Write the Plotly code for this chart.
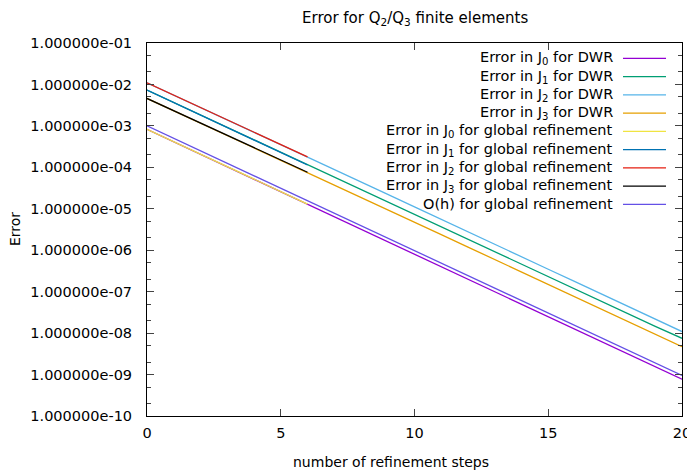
import plotly.graph_objects as go

steps = list(range(21))
steps_global = list(range(7))

# DWR errors (first steps coincide with global refinement)
dwr_j0 = [8.3e-4, 4.15e-4, 2.08e-4, 1.03e-4, 5.0e-5, 2.6e-5, 1.3e-5, 6.5e-6, 3.25e-6, 1.62e-6,
          8.1e-7, 4.05e-7, 2.0e-7, 1.0e-7, 5.0e-8, 2.5e-8, 1.25e-8, 6.2e-9, 3.1e-9, 1.55e-9, 7.7e-10]
dwr_j1 = [7.3e-3, 3.65e-3, 1.83e-3, 9.1e-4, 4.56e-4, 2.28e-4, 1.14e-4, 5.72e-5, 2.87e-5, 1.44e-5,
          7.2e-6, 3.62e-6, 1.82e-6, 9.1e-7, 4.57e-7, 2.29e-7, 1.15e-7, 5.8e-8, 2.9e-8, 1.46e-8, 7.5e-9]
dwr_j2 = [1.1e-2, 5.55e-3, 2.8e-3, 1.41e-3, 7.1e-4, 3.55e-4, 1.78e-4, 8.9e-5, 4.45e-5, 2.23e-5,
          1.11e-5, 5.6e-6, 2.8e-6, 1.39e-6, 6.95e-7, 3.48e-7, 1.74e-7, 8.7e-8, 4.35e-8, 2.17e-8, 1.09e-8]
dwr_j3 = [4.6e-3, 2.32e-3, 1.17e-3, 5.9e-4, 2.98e-4, 1.5e-4, 7.6e-5, 3.8e-5, 1.9e-5, 9.5e-6,
          4.75e-6, 2.38e-6, 1.19e-6, 5.95e-7, 2.97e-7, 1.49e-7, 7.4e-8, 3.7e-8, 1.86e-8, 9.3e-9, 4.7e-9]

# global refinement errors
glob_j0 = [8.3e-4, 4.15e-4, 2.08e-4, 1.04e-4, 5.2e-5, 2.6e-5, 1.3e-5]
glob_j1 = [7.3e-3, 3.65e-3, 1.83e-3, 9.1e-4, 4.56e-4, 2.28e-4, 1.14e-4]
glob_j2 = [1.1e-2, 5.55e-3, 2.8e-3, 1.41e-3, 7.1e-4, 3.55e-4, 1.78e-4]
glob_j3 = [4.6e-3, 2.32e-3, 1.17e-3, 5.9e-4, 2.98e-4, 1.5e-4, 7.6e-5]

# O(h) reference
o_h = [1.0e-3, 5.0e-4, 2.5e-4, 1.25e-4, 6.25e-5, 3.13e-5, 1.56e-5, 7.81e-6, 3.91e-6, 1.95e-6,
       9.77e-7, 4.88e-7, 2.44e-7, 1.22e-7, 6.10e-8, 3.05e-8, 1.53e-8, 7.63e-9, 3.81e-9, 1.91e-9, 9.54e-10]

ytick_vals = [1e-1, 1e-2, 1e-3, 1e-4, 1e-5, 1e-6, 1e-7, 1e-8, 1e-9, 1e-10]
ytick_text = ["1.000000e-01", "1.000000e-02", "1.000000e-03", "1.000000e-04", "1.000000e-05",
              "1.000000e-06", "1.000000e-07", "1.000000e-08", "1.000000e-09", "1.000000e-10"]
xtick_vals = [0, 5, 10, 15, 20]

series = [
    ("Error in J<sub>0</sub> for DWR", steps, dwr_j0, "#9400d3"),
    ("Error in J<sub>1</sub> for DWR", steps, dwr_j1, "#009e73"),
    ("Error in J<sub>2</sub> for DWR", steps, dwr_j2, "#56b4e9"),
    ("Error in J<sub>3</sub> for DWR", steps, dwr_j3, "#e69f00"),
    ("Error in J<sub>0</sub> for global refinement", steps_global, glob_j0, "#f0e442"),
    ("Error in J<sub>1</sub> for global refinement", steps_global, glob_j1, "#0072b2"),
    ("Error in J<sub>2</sub> for global refinement", steps_global, glob_j2, "#e51e10"),
    ("Error in J<sub>3</sub> for global refinement", steps_global, glob_j3, "#000000"),
    ("O(h) for global refinement", steps, o_h, "#6450e6"),
]

FONT = "DejaVu Sans"
FS = 14.5
OFF = 8  # page body margin
# target screen positions of the plot frame
SX0, SX1, SY0, SY1 = 147, 682, 43, 416
W, H = 695 - OFF, 471 - OFF
L, T = SX0 - OFF, SY0 - OFF
R, B = W - (SX1 - OFF), H - (SY1 - OFF)
pw, ph = SX1 - SX0, SY1 - SY0


def px(sx):
    return (sx - SX0) / pw


def py(sy):
    return (SY1 - sy) / ph


fig = go.Figure()
annotations = []
shapes = []
row0, drow = 58.3, 18.25
for i, (name, xs, ys, col) in enumerate(series):
    fig.add_trace(go.Scatter(x=xs, y=ys, mode="lines", name=name,
                             line=dict(color=col, width=1.3), showlegend=False))
    yp = py(row0 + i * drow)
    annotations.append(dict(x=px(615), y=yp, xref="paper", yref="paper",
                            text=name, showarrow=False, xanchor="right", yanchor="middle",
                            font=dict(family=FONT, size=FS, color="#000000")))
    shapes.append(dict(type="line", xref="paper", yref="paper",
                       x0=px(623), x1=px(666), y0=yp, y1=yp,
                       line=dict(color=col, width=1.3)))

# axis titles
annotations.append(dict(x=px(391), y=py(462), xref="paper", yref="paper",
                        text="number of refinement steps", showarrow=False,
                        xanchor="center", yanchor="middle",
                        font=dict(family=FONT, size=14, color="#000000")))
annotations.append(dict(x=px(15), y=py(229), xref="paper", yref="paper",
                        text="Error", showarrow=False, textangle=-90,
                        xanchor="center", yanchor="middle",
                        font=dict(family=FONT, size=14, color="#000000")))
annotations.append(dict(x=px(415), y=py(OFF), xref="paper", yref="paper",
                        text="Error for Q<sub>2</sub>/Q<sub>3</sub> finite elements",
                        showarrow=False, xanchor="center", yanchor="top", borderpad=0,
                        font=dict(family=FONT, size=15, color="#000000")))

fig.update_layout(
    width=W, height=H,
    margin=dict(l=L, r=R, t=T, b=B, pad=0),
    paper_bgcolor="white", plot_bgcolor="white",
    font=dict(family=FONT, size=FS, color="#000000"),
    annotations=annotations,
    shapes=shapes,
)
fig.update_xaxes(range=[0, 20], tickvals=xtick_vals, ticks="inside", ticklen=7,
                 showline=True, linecolor="black", linewidth=1, mirror="ticks",
                 showgrid=False, zeroline=False, automargin=False,
                 ticklabelstandoff=4,
                 tickfont=dict(family=FONT, size=FS))
fig.update_yaxes(type="log", range=[-10, -1], tickvals=ytick_vals, ticktext=ytick_text,
                 ticks="inside", ticklen=7,
                 minor=dict(ticks="inside", ticklen=4, dtick="D2", showgrid=False),
                 showline=True, linecolor="black", linewidth=1, mirror="ticks",
                 showgrid=False, zeroline=False, automargin=False,
                 ticklabelstandoff=11,
                 tickfont=dict(family=FONT, size=FS))

fig.write_html("out.html")
